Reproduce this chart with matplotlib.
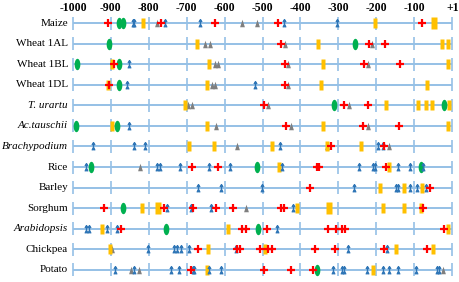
import numpy as np
import matplotlib
matplotlib.use("Agg")
import matplotlib.pyplot as plt
from matplotlib.path import Path

rows = ["Maize", "Wheat 1AL", "Wheat 1BL", "Wheat 1DL", "T. urartu", "Ac.tauschii",
        "Brachypodium", "Rice", "Barley", "Sorghum", "Arabidopsis", "Chickpea", "Potato"]
italic_rows = ["T. urartu", "Ac.tauschii", "Brachypodium", "Arabidopsis"]

tick_values = [-1000, -900, -800, -700, -600, -500, -400, -300, -200, -100, 1]
tick_labels = ["-1000", "-900", "-800", "-700", "-600", "-500", "-400", "-300", "-200", "-100", "+1"]

red_pos = [
    [-908, -769, -625, -460, -78],
    [-452, -218, -177],
    [-892, -441, -231, -137],
    [-905, -441],
    [-495, -284, -221],
    [-438, -236, -141],
    [-319, -179],
    [-685, -617, -355, -350, -174],
    [-375, -58],
    [-917, -759, -684, -623, -579, -452, -443, -76],
    [-874, -555, -544, -487, -326, -307, -291, -282, -21],
    [-669, -566, -559, -507, -485, -476, -361, -309, -179, -65],
    [-689, -495, -426, -368],
]

green_pos = [
    [-878, -869],
    [-905, -255],
    [-990, -878],
    [-878],
    [-311, -20],
    [-993, -885],
    [],
    [-953, -514, -83],
    [],
    [-869],
    [-755, -513],
    [],
    [-357],
]

blue_pos = [
    [-843, -838, -757, -665, -443, -304],
    [],
    [-852],
    [-857, -520],
    [],
    [-851],
    [-946, -838, -810, -455, -196, -183],
    [-966, -779, -770, -718, -641, -586, -448, -245, -208, -203, -142, -111, -76],
    [-671, -610, -502, -258, -148, -142, -111, -93, -69],
    [-753, -689, -636, -419],
    [-966, -957, -911, -883, -463],
    [-803, -733, -725, -715, -693, -570, -275, -171],
    [-889, -838, -742, -720, -684, -681, -640, -610, -313, -291, -284, -225,
     -183, -165, -142, -95, -40, -34],
]

gray_pos = [
    [-778, -553, -514],
    [-652, -639, -441, -212],
    [-625, -617, -432, -221],
    [-634, -625, -432],
    [-696, -687, -486, -271],
    [-623, -425, -222],
    [-568, -331, -165],
    [-823],
    [],
    [-544],
    [],
    [-896],
    [-847, -825, -25],
]

yellow_pos = [
    [-816, -203],
    [-672, -354, -27, -11],
    [-896, -641, -341, -10],
    [-907, -646, -346, -67],
    [-704, -174, -89, -69, -53, -8],
    [-898, -646, -341, -10],
    [-694, -627, -474, -331, -240],
    [-456, -165],
    [-190, -127, -80],
    [-819, -408, -183, -127, -82],
    [-923, -590, -10],
    [-902, -643, -493, -149, -49],
    [-647, -208],
]

yellow_wide_pos = [
    [-47], [], [], [], [], [], [], [], [], [-777, -325], [], [], [],
]

# ---- marker shapes ----
t = np.linspace(0, 2 * np.pi, 40)
ellipse = Path(np.c_[0.5 * np.cos(t), np.sin(t)], closed=True)
rect_narrow = Path([(-0.17, -0.5), (0.17, -0.5), (0.17, 0.5), (-0.17, 0.5), (-0.17, -0.5)], closed=True)
rect_wide = Path([(-0.28, -0.5), (0.28, -0.5), (0.28, 0.5), (-0.28, 0.5), (-0.28, -0.5)], closed=True)
tri = Path([(-0.32, -0.5), (0.0, 0.5), (0.32, -0.5), (-0.32, -0.5)], closed=True)
M, L = Path.MOVETO, Path.LINETO
arrow = Path([(0, -0.5), (0, 0.5), (-0.2, 0.18), (0, 0.5), (0.2, 0.18),
              (-0.2, -0.5), (0, -0.12), (0.2, -0.5)],
             [M, L, M, L, L, M, L, L])

fig = plt.figure(figsize=(4.59, 2.82), dpi=100)
ax = fig.add_axes([0, 0, 1, 1])
px = 0.379  # pixels per unit
x0 = -1000 - 73 / px
x1 = -1000 + (459 - 73) / px
ax.set_xlim(x0, x1)
row_px = 20.58
ax.set_ylim((282 - 23) / row_px, -23 / row_px)
ax.axis("off")

line_c = "#95c0e6"
tick_half = 6.5 / row_px
for i, name in enumerate(rows):
    ax.hlines(i, -1000, 1, color=line_c, lw=1.4, zorder=1)
    ax.vlines(tick_values, i - tick_half, i + tick_half, color=line_c, lw=1.2, zorder=1)
    ax.text(-1000 - 5 / px, i, name, ha="right", va="center", fontsize=8,
            family="Liberation Serif",
            style="italic" if name in italic_rows else "normal")

    yy = lambda v: [i] * len(v)
    ax.plot(gray_pos[i], yy(gray_pos[i]), ls="none", marker=tri, ms=5.4,
            color="#7f7f7f", mec="none", zorder=3)
    ax.plot(yellow_pos[i], yy(yellow_pos[i]), ls="none", marker=rect_narrow, ms=7.6,
            color="#ffc000", mec="none", zorder=3)
    ax.plot(yellow_wide_pos[i], yy(yellow_wide_pos[i]), ls="none", marker=rect_wide, ms=8.4,
            color="#ffc000", mec="none", zorder=3)
    ax.plot(green_pos[i], yy(green_pos[i]), ls="none", marker=ellipse, ms=8.2,
            color="#00b050", mec="none", zorder=3)
    ax.plot(blue_pos[i], yy(blue_pos[i]), ls="none", marker=arrow, ms=5.6,
            mfc="none", mec="#2e75b6", mew=0.9, zorder=4)
    ax.plot(red_pos[i], yy(red_pos[i]), ls="none", marker="+", ms=5.2,
            mec="#ff0000", mew=1.6, zorder=5)

for v, lab in zip(tick_values, tick_labels):
    ax.text(v, -15 / row_px, lab, ha="center", va="center", fontsize=8.5,
            family="Liberation Serif", fontweight="bold")

fig.savefig("out.png", dpi=100)
